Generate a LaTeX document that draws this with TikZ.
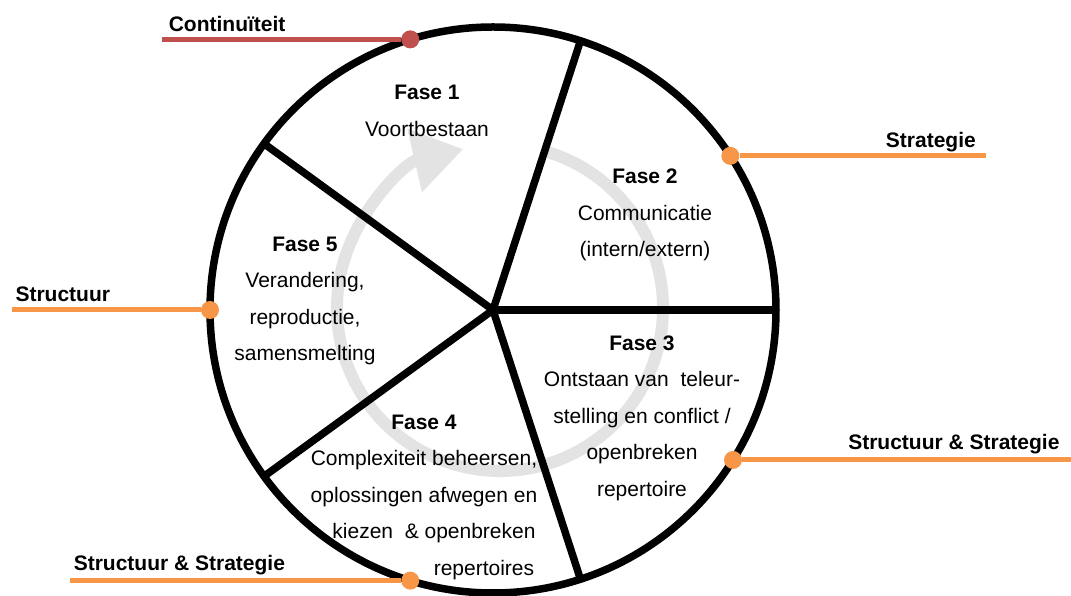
\documentclass[tikz,border=0pt]{standalone}
\usepackage{fontspec}
\setmainfont{Liberation Sans}
\usetikzlibrary{arrows.meta, positioning, calc}
\definecolor{cred}{HTML}{C0504D}
\definecolor{corange}{HTML}{F79646}
\definecolor{cring}{HTML}{E3E3E3}
\tikzset{
  every picture/.style={x=1pt, y=1pt, font=\fontsize{21}{36.5}\selectfont},
  wheel/.style={circle, draw, line width=7.5pt, minimum size=566pt, inner sep=0pt, outer sep=0pt},
  spoke/.style={line width=7.5pt},
  ring/.style={draw=cring, line width=12pt, -{Triangle[length=50pt, width=62pt]}},
  dot/.style={circle, fill=#1, minimum size=18pt, inner sep=0pt},
  lead/.style={draw=#1, line width=5pt},
  tag/.style={font=\fontsize{21}{25}\selectfont\bfseries},
  fase/.style={align=center},
}

\begin{document}
\begin{tikzpicture}
  \useasboundingbox (-493,-286) rectangle (578,310);
  \draw[ring] (7,2) ++(74:163) arc[start angle=74, end angle=-257, radius=163];
  \node[wheel] (w) at (0,0) {};
  \foreach \a in {0,72,144,216,288}
    \draw[spoke] (w.center) -- (w.\a);

  \node[fase] (f1) at (-66,199) {\textbf{Fase 1}\\Voortbestaan};
  \node[fase] (f2) at (152,95) {\textbf{Fase 2}\\Communicatie\\(intern/extern)};
  \node[fase] (f3) at (149,-108) {\textbf{Fase 3}\\Ontstaan van~ teleur-\\stelling en conflict /\\openbreken\\repertoire};
  \node[fase] (f4) at (-69,-187) {\textbf{Fase 4}\\Complexiteit beheersen,\\oplossingen afwegen en\\\hspace*{20pt}kiezen~ \& openbreken\\\hspace*{120pt}repertoires};
  \node[fase] (f5) at (-188,9) {\textbf{Fase 5}\\Verandering,\\reproductie,\\samensmelting};

  \node[dot=cred] (d1) at (w.107) {};
  \node[dot=corange] (d2) at (w.33) {};
  \node[dot=corange] (d3) at (w.180) {};
  \node[dot=corange] (d4) at (w.-32) {};
  \node[dot=corange] (d5) at (w.253) {};
  \coordinate (e1) at ([xshift=-248pt]d1.center);
  \coordinate (e2) at ([xshift=256pt]d2.center);
  \coordinate (e3) at ([xshift=-198pt]d3.center);
  \coordinate (e4) at ([xshift=338pt]d4.center);
  \coordinate (e5) at ([xshift=-340pt]d5.center);
  \draw[lead=cred] (e1) -- (d1);
  \draw[lead=corange] (e2) -- (d2);
  \draw[lead=corange] (e3) -- (d3);
  \draw[lead=corange] (e4) -- (d4);
  \draw[lead=corange] (e5) -- (d5);

  \node[tag, anchor=base west] (t1) at ([xshift=3pt, yshift=8pt]e1) {Continuïteit};
  \node[tag, anchor=base east] (t2) at ([xshift=-7pt, yshift=8pt]e2) {Strategie};
  \node[tag, anchor=base west] (t3) at ([yshift=8pt]e3) {Structuur};
  \node[tag, anchor=base east] (t4) at ([xshift=-8pt, yshift=10pt]e4) {Structuur \& Strategie};
  \node[tag, anchor=base west] (t5) at ([yshift=10pt]e5) {Structuur \& Strategie};
\end{tikzpicture}
\end{document}
